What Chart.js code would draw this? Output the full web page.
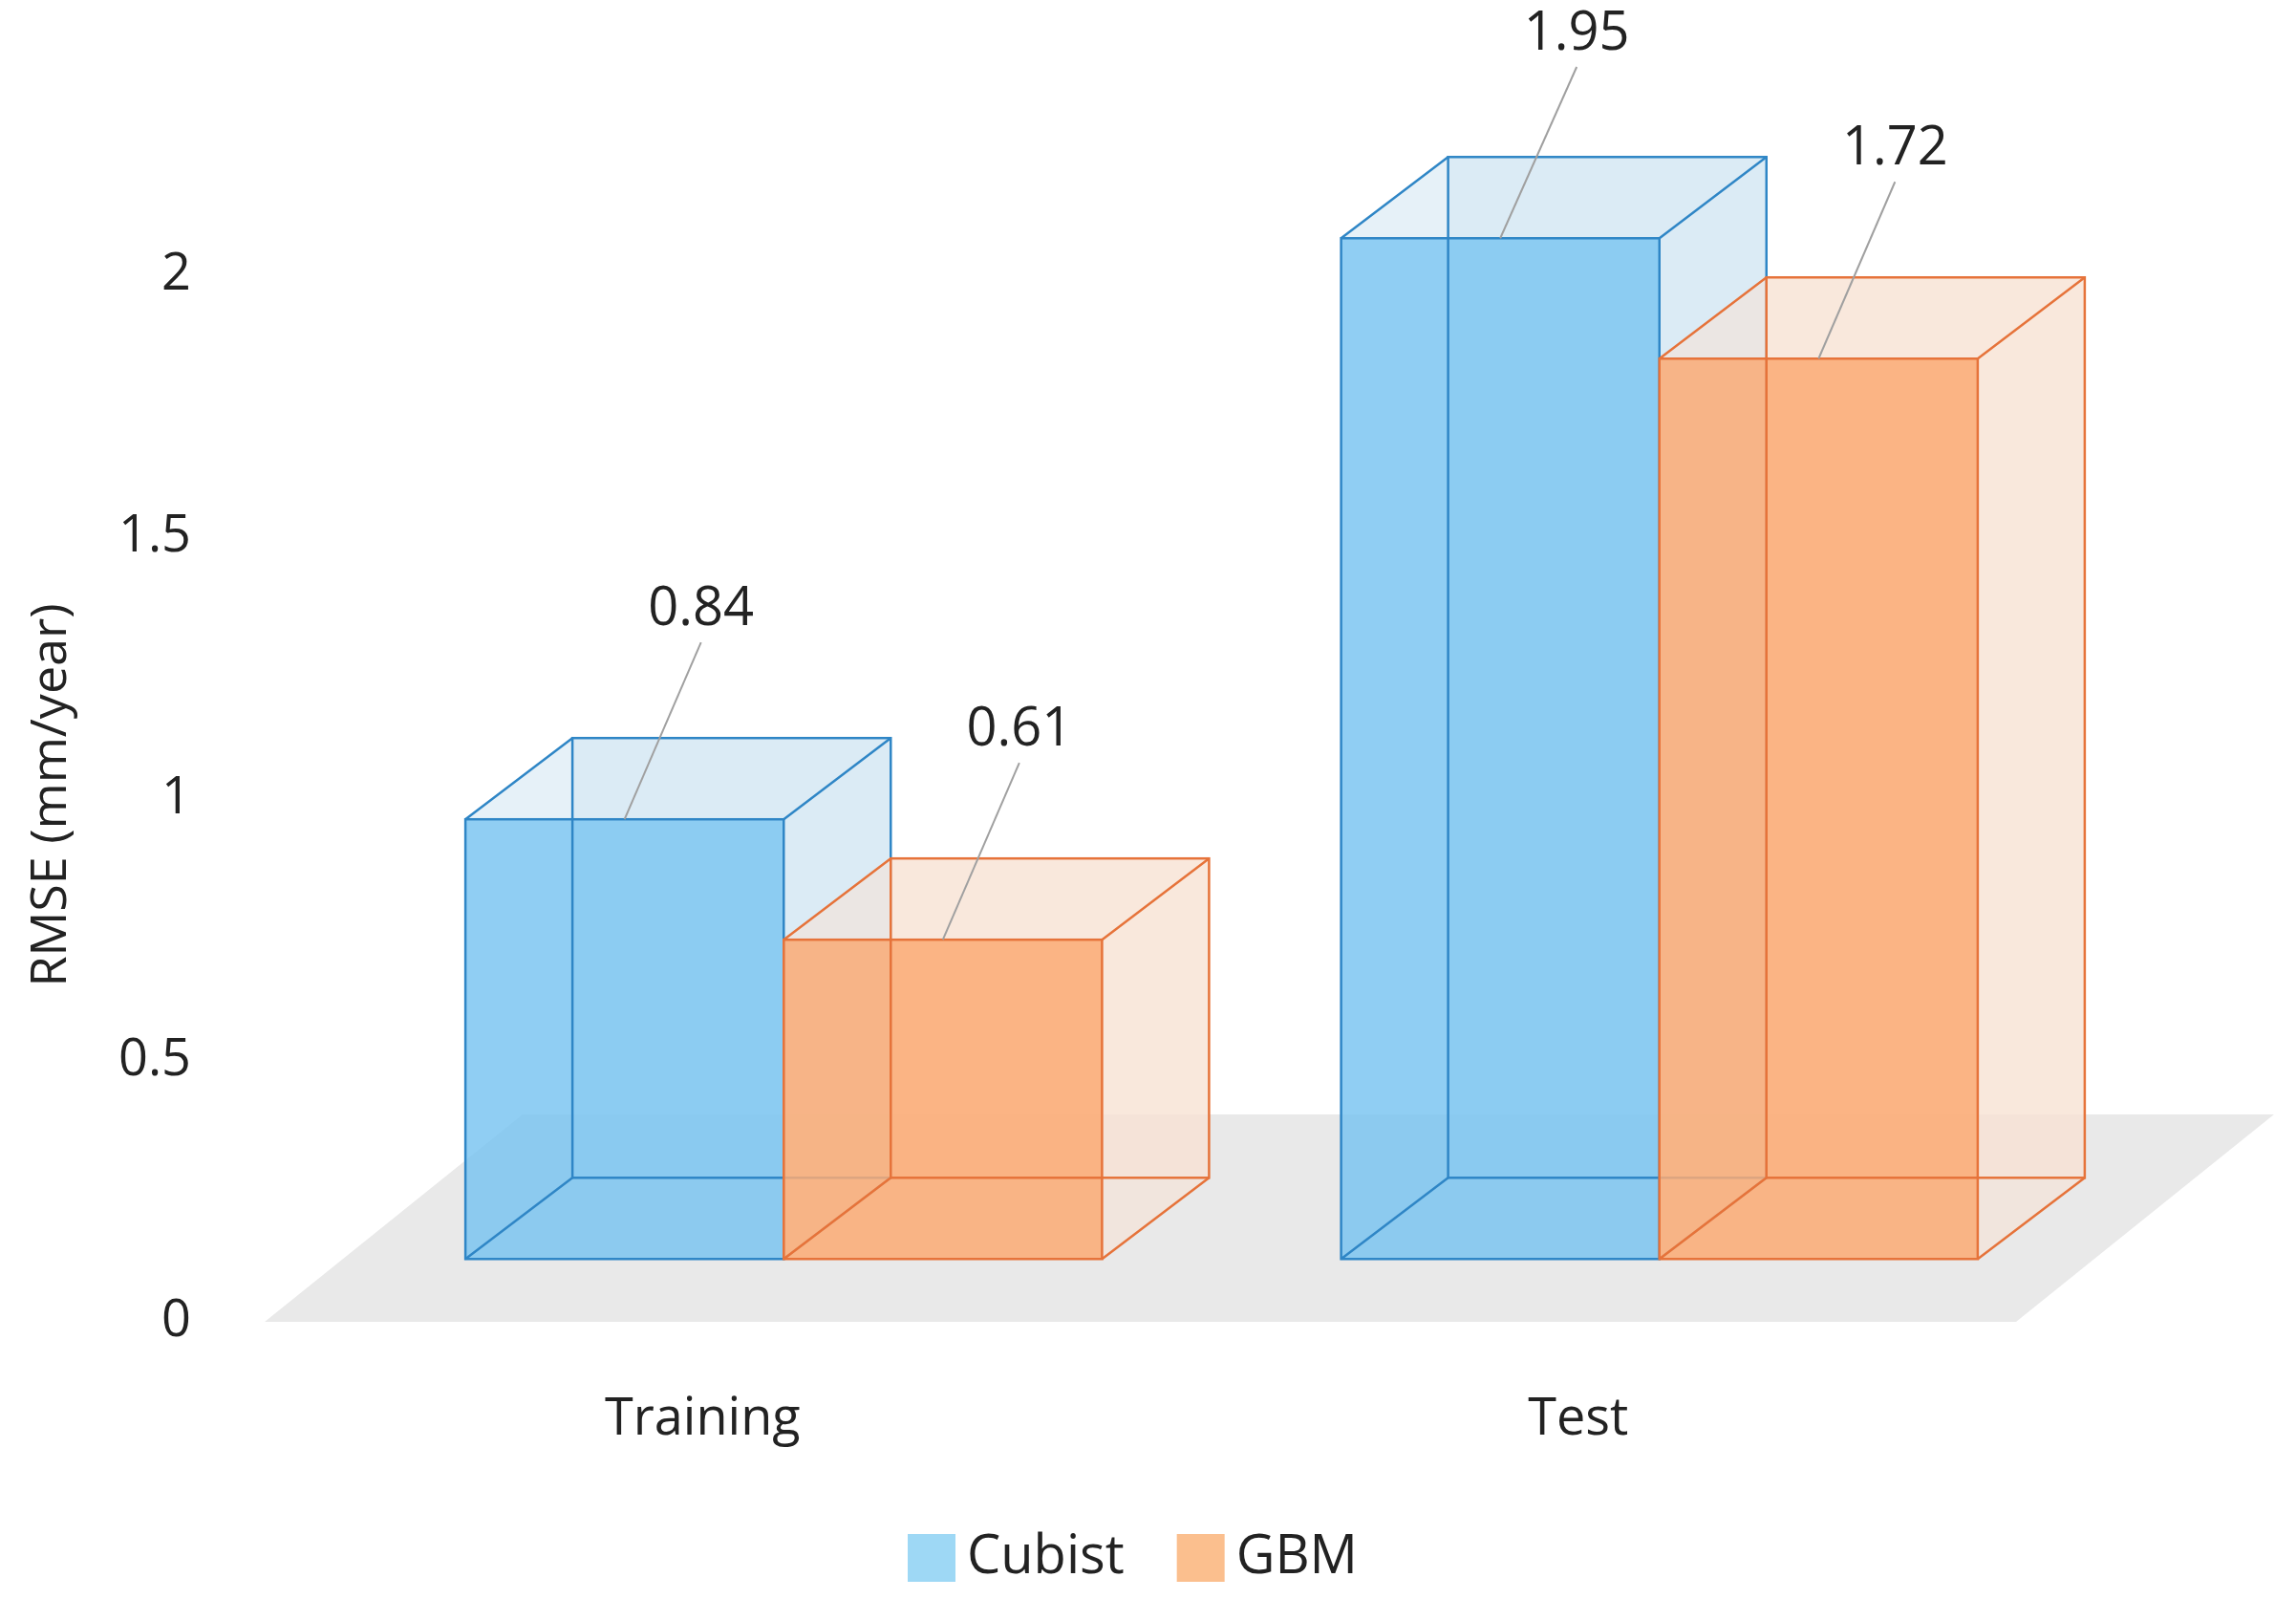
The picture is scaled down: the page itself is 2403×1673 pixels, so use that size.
<!DOCTYPE html>
<html><head><meta charset="utf-8">
<script src="https://cdn.jsdelivr.net/npm/chart.js@4"></script>
<style>html,body{margin:0;padding:0;background:#fff}#wrap{width:2403px;height:1673px}</style>
</head><body><div id="wrap"><canvas id="c" width="2403" height="1673"></canvas></div>
<script>
const categories = ["Training", "Test"];
const cubist = [0.84, 1.95];
const gbm = [0.61, 1.72];
const seriesNames = ["Cubist", "GBM"];
const yTicks = [0, 0.5, 1, 1.5, 2];
const baseOffset = 0.12;

const FONT = '"Open Sans", "Noto Sans", sans-serif';
const styles = [
  {front:'rgba(120,195,240,0.82)', back:'rgba(210,230,242,0.55)', stroke:'#2f86c6', legend:'#9ed8f5'},
  {front:'rgba(252,170,115,0.85)', back:'rgba(248,225,212,0.55)', stroke:'#e6733a', legend:'#fbbf8e'}
];
const DX = 112, DY = -85, BAR_SHIFT = 85;

const boxes = {
  id:'boxes',
  beforeDatasetsDraw(chart){
    const ctx = chart.ctx, a = chart.chartArea, y = chart.scales.y;
    const y0 = y.getPixelForValue(0);
    ctx.save();
    ctx.fillStyle = '#e9e9e9';
    ctx.beginPath();
    ctx.moveTo(a.left, y0); ctx.lineTo(a.right, y0);
    ctx.lineTo(a.right + 270, y0 - 217); ctx.lineTo(a.left + 270, y0 - 217);
    ctx.closePath(); ctx.fill();
    ctx.restore();
  },
  afterDatasetsDraw(chart){
    const ctx = chart.ctx, y = chart.scales.y;
    const base = y.getPixelForValue(baseOffset);
    ctx.save();
    ctx.lineWidth = 2.5;
    for (let i = 0; i < categories.length; i++) {
      for (let d = 0; d < 2; d++) {
        const el = chart.getDatasetMeta(d).data[i];
        const v = chart.data.datasets[d].data[i];
        const x0 = el.x - el.width/2 + BAR_SHIFT, x1 = el.x + el.width/2 + BAR_SHIFT;
        const top = y.getPixelForValue(baseOffset + v);
        const s = styles[d];
        ctx.fillStyle = s.back;
        ctx.beginPath();
        ctx.moveTo(x1, top); ctx.lineTo(x1+DX, top+DY); ctx.lineTo(x1+DX, base+DY); ctx.lineTo(x1, base); ctx.closePath(); ctx.fill();
        ctx.beginPath();
        ctx.moveTo(x0, top); ctx.lineTo(x0+DX, top+DY); ctx.lineTo(x1+DX, top+DY); ctx.lineTo(x1, top); ctx.closePath(); ctx.fill();
        ctx.fillRect(x0+DX, top+DY, x1-x0, base-top);
        ctx.fillStyle = s.front;
        ctx.fillRect(x0, top, x1-x0, base-top);
        ctx.strokeStyle = s.stroke;
        ctx.strokeRect(x0+DX, top+DY, x1-x0, base-top);
        ctx.strokeRect(x0, top, x1-x0, base-top);
        ctx.beginPath();
        [[x0,top],[x1,top],[x1,base],[x0,base]].forEach(p=>{ctx.moveTo(p[0],p[1]);ctx.lineTo(p[0]+DX,p[1]+DY);});
        ctx.stroke();
      }
    }
    for (let i = 0; i < categories.length; i++) {
      for (let d = 0; d < 2; d++) {
        const el = chart.getDatasetMeta(d).data[i];
        const v = chart.data.datasets[d].data[i];
        const cx = el.x + BAR_SHIFT;
        const top = y.getPixelForValue(baseOffset + v);
        const lx = cx + 80, ly = Math.max(top - 185, 70);
        ctx.strokeStyle = '#a0a0a0'; ctx.lineWidth = 2;
        ctx.beginPath(); ctx.moveTo(cx, top); ctx.lineTo(lx, ly); ctx.stroke();
        ctx.fillStyle = '#222'; ctx.font = '56px ' + FONT;
        ctx.textAlign = 'center'; ctx.textBaseline = 'bottom';
        ctx.fillText(v.toFixed(2), lx, ly - 6);
      }
    }
    ctx.save();
    ctx.translate(54, 832); ctx.rotate(-Math.PI/2);
    ctx.fillStyle = '#222'; ctx.font = '52px ' + FONT;
    ctx.textAlign = 'center'; ctx.textBaseline = 'middle';
    ctx.fillText('RMSE (mm/year)', 0, 0);
    ctx.restore();
    ctx.font = '56px ' + FONT; ctx.textBaseline = 'middle'; ctx.textAlign = 'left';
    let lxp = 950; const lyp = 1630;
    seriesNames.forEach((n, d) => {
      ctx.fillStyle = styles[d].legend;
      ctx.fillRect(lxp, lyp - 25, 50, 50);
      ctx.fillStyle = '#222';
      ctx.fillText(n, lxp + 62, lyp);
      lxp += 62 + ctx.measureText(n).width + 55;
    });
    ctx.restore();
  }
};

new Chart(document.getElementById('c'), {
  type:'bar',
  data:{labels:categories, datasets:[
    {label:seriesNames[0], data:cubist, backgroundColor:'rgba(0,0,0,0)'},
    {label:seriesNames[1], data:gbm, backgroundColor:'rgba(0,0,0,0)'}
  ]},
  options:{
    responsive:false, animation:false, devicePixelRatio:1,
    layout:{padding:{left:0,top:0,right:293,bottom:0}},
    plugins:{legend:{display:false}, tooltip:{enabled:false}},
    datasets:{bar:{categoryPercentage:0.727, barPercentage:1}},
    scales:{
      x:{grid:{display:false}, border:{display:false},
         ticks:{font:{size:54, family:FONT}, color:'#222', padding:62},
         afterFit(s){ s.height = 290; }},
      y:{min:0, max:2.34, grid:{display:false}, border:{display:false},
         afterBuildTicks(s){ s.ticks = yTicks.map(v=>({value:v})); },
         ticks:{font:{size:54, family:FONT}, color:'#222', padding:69, callback:v=>String(v)},
         afterFit(s){ s.width = 277; }}
    }
  },
  plugins:[boxes]
});
</script></body></html>
